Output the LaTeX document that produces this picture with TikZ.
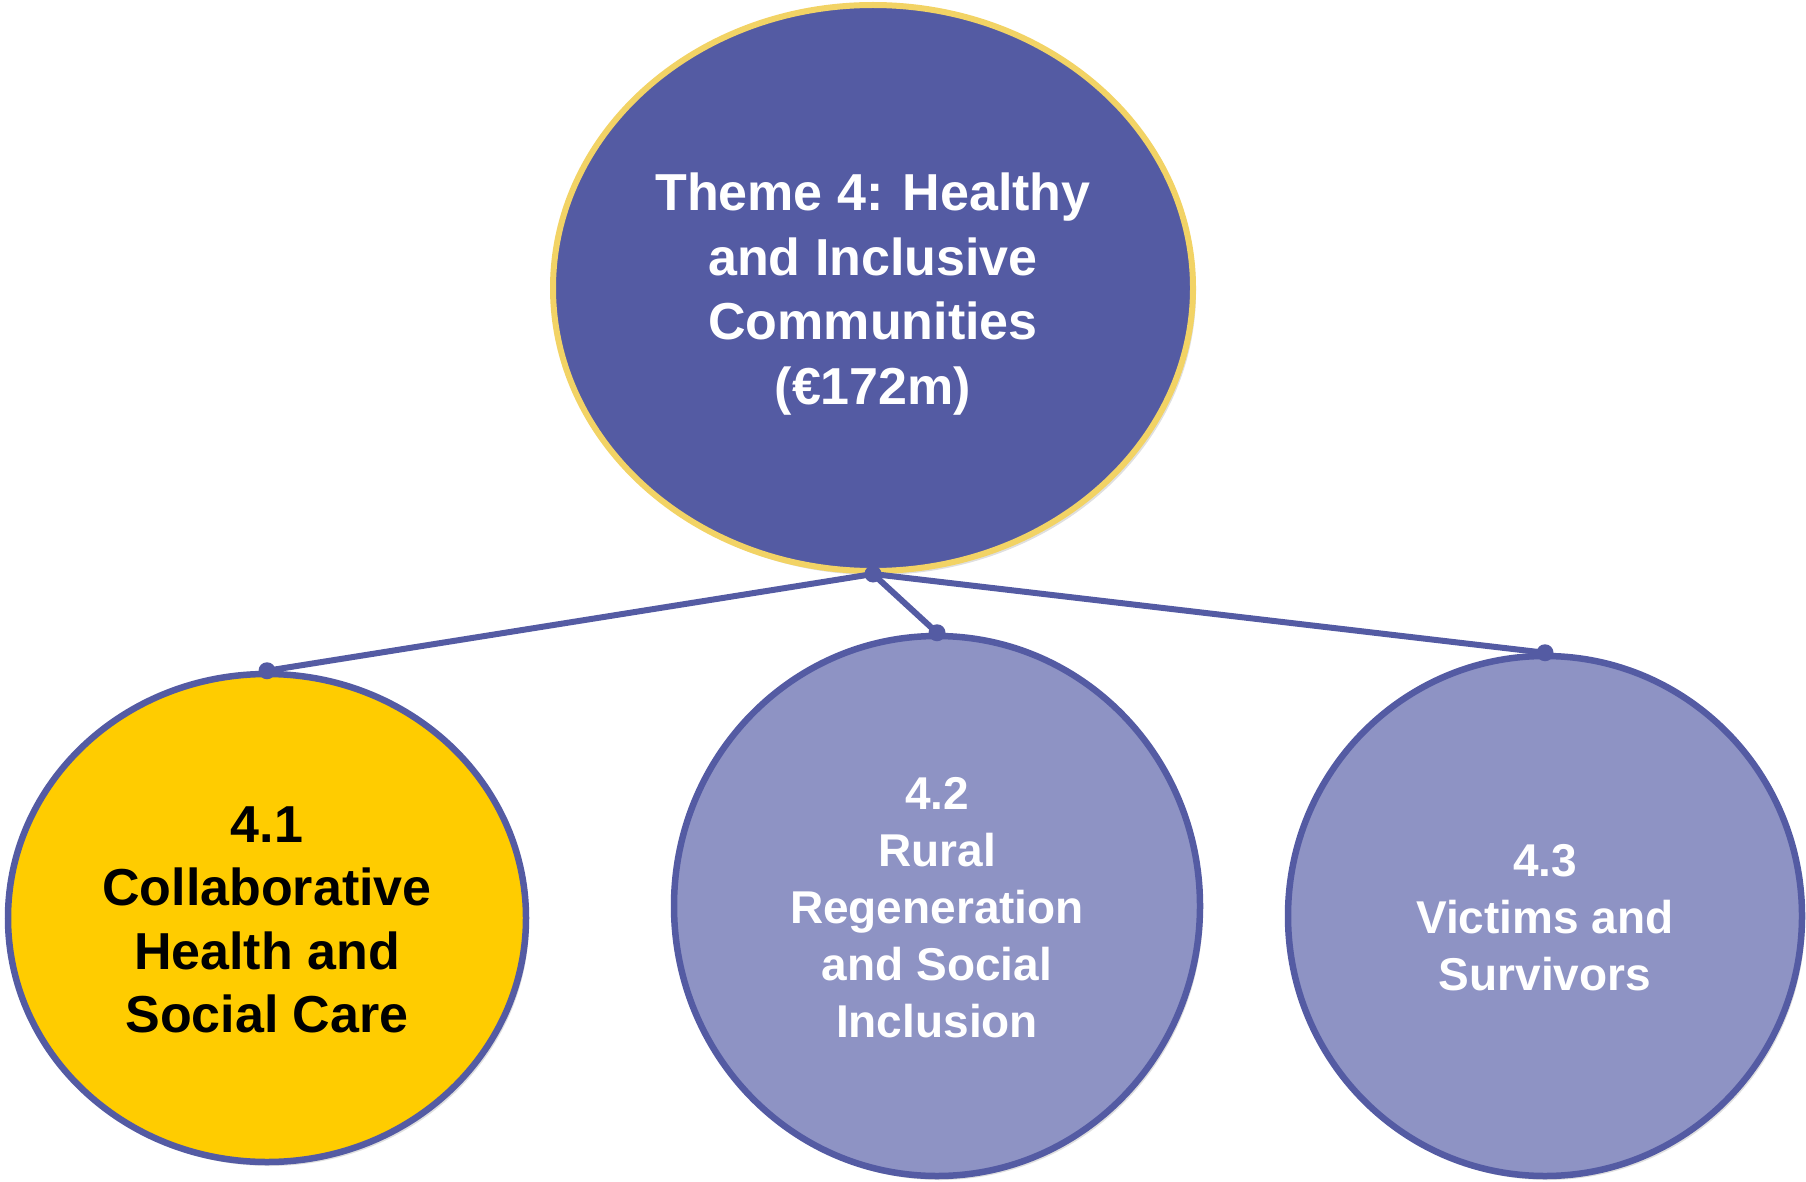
\documentclass[tikz,border=0pt]{standalone}
\usepackage{fontspec}
\setmainfont{Liberation Sans}
\usetikzlibrary{shapes.geometric,shadows}
\definecolor{themeblue}{RGB}{84,91,163}
\definecolor{themeyellow}{RGB}{242,211,101}
\definecolor{subblue}{RGB}{142,147,196}
\definecolor{subyellow}{RGB}{255,204,0}
\tikzset{
  bubble/.style={ellipse, inner sep=0pt,
    drop shadow={shadow xshift=3pt, shadow yshift=-4pt, opacity=0.25}},
  topbubble/.style={bubble, fill=themeblue, draw=themeyellow, line width=6pt},
  subbubble/.style={bubble, fill=subblue, draw=themeblue, line width=6.5pt},
  bubbletext/.style={align=center, inner sep=0pt, text=white},
  link/.style={draw=themeblue, line width=6pt},
  knob/.style={fill=themeblue}
}
\begin{document}
\begin{tikzpicture}[x=1pt,y=-1pt]
\useasboundingbox (0,0) rectangle (1806,1182);
\node[topbubble, minimum width=640pt, minimum height=566pt] (top) at (873,288) {};
\node[subbubble, fill=subyellow, minimum width=518pt, minimum height=488pt] (left) at (267,918) {};
\node[subbubble, minimum width=526pt, minimum height=540pt] (mid) at (937,906) {};
\node[subbubble, minimum width=514pt, minimum height=520pt] (right) at (1545,916) {};
\node[bubbletext, font=\fontsize{52}{64.5}\selectfont\bfseries] (toptext)
  at ([yshift=-6pt]top.center) {Theme 4: Healthy\\and Inclusive\\Communities\\(€172m)};
\node[bubbletext, text=black, font=\fontsize{52}{63.5}\selectfont\bfseries] (lefttext)
  at ([yshift=-2pt]left.center) {4.1\\Collaborative\\Health and\\Social Care};
\node[bubbletext, font=\fontsize{46}{57}\selectfont\bfseries] (midtext)
  at ([yshift=-2pt]mid.center) {4.2\\Rural\\Regeneration\\and Social\\Inclusion};
\node[bubbletext, font=\fontsize{46}{57}\selectfont\bfseries] (righttext)
  at ([yshift=-2pt]right.center) {4.3\\Victims and\\Survivors};
\draw[link] (top.south) -- (left.north);
\draw[link] (top.south) -- (mid.north);
\draw[link] (top.south) -- (right.north);
\fill[knob] (top.south) circle (8.5pt);
\fill[knob] (left.north) circle (8.5pt);
\fill[knob] (mid.north) circle (8.5pt);
\fill[knob] (right.north) circle (8.5pt);
\end{tikzpicture}
\end{document}
